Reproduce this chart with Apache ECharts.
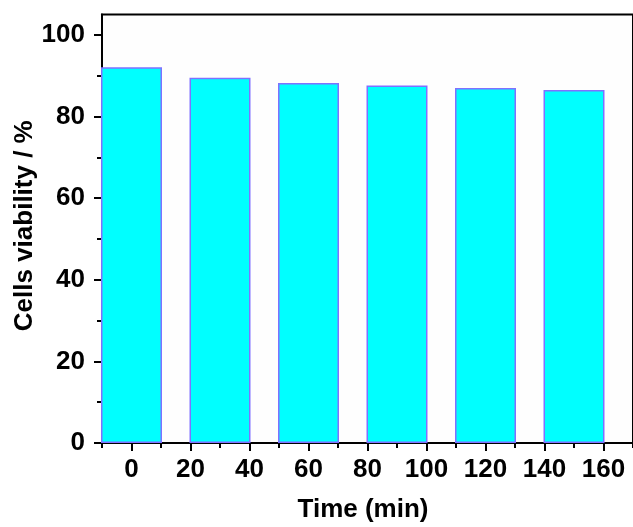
<!DOCTYPE html>
<html>
<head>
<meta charset="utf-8">
<script src="https://cdn.jsdelivr.net/npm/echarts@6/dist/echarts.min.js"></script>
<style>
  html, body { margin: 0; padding: 0; background: #fff; }
  #chart { width: 633px; height: 527px; }
</style>
</head>
<body>
<div id="chart"></div>
<script>
// Sampling times (min) and measured cell viability (%)
const times = [0, 30, 60, 90, 120, 150];
const viability = [92.1, 89.5, 88.2, 87.6, 87.0, 86.5];

// Axis tick positions
const xMajorTicks = [0, 20, 40, 60, 80, 100, 120, 140, 160];
const xMinorTicks = [-10, 10, 30, 50, 70, 90, 110, 130, 150, 170];
const yMajorTicks = [0, 20, 40, 60, 80, 100];
const yMinorTicks = [10, 30, 50, 70, 90];

const FONT = '"Liberation Sans", Arial, sans-serif';
const labelStyle = { fontFamily: FONT, fontWeight: 'bold', fontSize: 26, color: '#000' };

const chart = echarts.init(document.getElementById('chart'), null, { renderer: 'canvas' });

chart.setOption({
  animation: false,
  backgroundColor: '#ffffff',
  grid: {
    left: 102, top: 14.5, right: 0, bottom: 84,
    containLabel: false, outerBoundsMode: 'none',
    show: true, borderColor: '#000', borderWidth: 2, backgroundColor: '#fefefe'
  },
  xAxis: [
    {
      type: 'value', min: -10, max: 170,
      name: 'Time (min)', nameLocation: 'middle', nameGap: 54, nameMoveOverlap: false,
      nameTextStyle: { ...labelStyle, padding: [0, 9, 0, 0] },
      axisLine: { show: true, onZero: false, lineStyle: { color: '#000', width: 2 } },
      axisTick: { show: true, inside: false, length: 8, lineStyle: { color: '#000', width: 2 }, customValues: xMajorTicks },
      axisLabel: { ...labelStyle, margin: 14, customValues: xMajorTicks },
      splitLine: { show: false }
    },
    {
      type: 'value', min: -10, max: 170, position: 'bottom',
      axisLine: { show: false, onZero: false },
      axisTick: { show: true, inside: false, length: 5, lineStyle: { color: '#000', width: 2 }, customValues: xMinorTicks },
      axisLabel: { show: false },
      splitLine: { show: false }
    }
  ],
  yAxis: [
    {
      type: 'value', min: 0, max: 105,
      name: 'Cells viability / %', nameLocation: 'middle', nameGap: 64, nameMoveOverlap: false,
      nameTextStyle: { ...labelStyle, padding: [0, 0, 0, 6] },
      axisLine: { show: true, onZero: false, lineStyle: { color: '#000', width: 2 } },
      axisTick: { show: true, inside: false, length: 8, lineStyle: { color: '#000', width: 2 }, customValues: yMajorTicks },
      axisLabel: { ...labelStyle, margin: 17, customValues: yMajorTicks },
      splitLine: { show: false }
    },
    {
      type: 'value', min: 0, max: 105, position: 'left',
      axisLine: { show: false, onZero: false },
      axisTick: { show: true, inside: false, length: 5, lineStyle: { color: '#000', width: 2 }, customValues: yMinorTicks },
      axisLabel: { show: false },
      splitLine: { show: false }
    }
  ],
  series: [
    {
      type: 'bar',
      xAxisIndex: 0, yAxisIndex: 0,
      data: times.map((t, i) => [t, viability[i]]),
      barWidth: 61,
      itemStyle: { color: '#00ffff', borderColor: '#8070ff', borderWidth: 1.5 }
    }
  ]
});
</script>
</body>
</html>
